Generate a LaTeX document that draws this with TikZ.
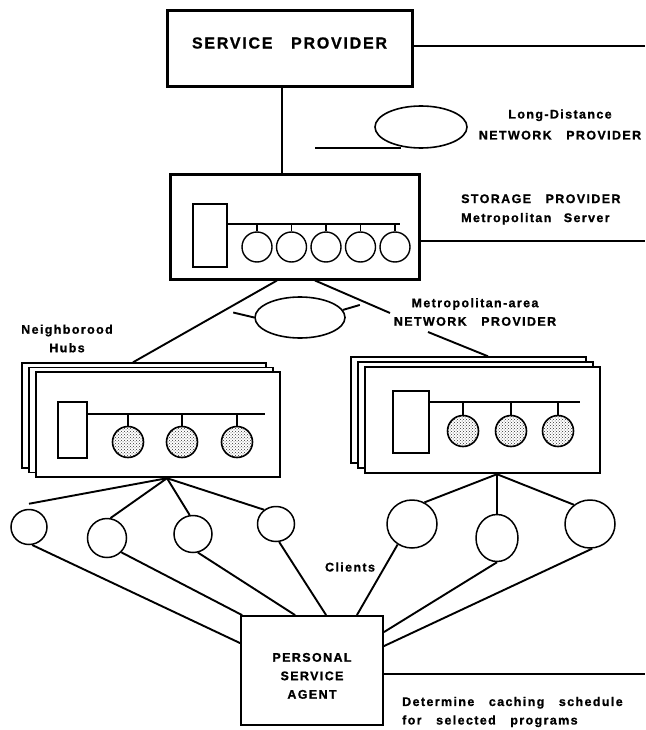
\documentclass[tikz,border=0pt]{standalone}
\usepackage{fontspec}
\newfontfamily\diagfont{Liberation Sans Bold}[LetterSpace=11,WordSpace=3,FakeBold=1]
\usetikzlibrary{shapes.geometric,patterns}

\begin{document}
\begin{tikzpicture}[x=1pt, y=-1pt,
  lbl/.style={font=\diagfont\fontsize{12.5}{18.5}\selectfont, inner sep=0pt},
  bigbox/.style={draw, line width=3pt, fill=white},
  hub/.style={draw, line width=2.4pt, fill=white, minimum width=#1},
  hubback/.style={draw, line width=1.4pt, fill=white, minimum width=#1},
  srv/.style={draw, line width=1.4pt, fill=white},
  disk/.style={draw, circle, line width=1.4pt, minimum size=30, inner sep=0pt},
  hubdisk/.style={draw, circle, line width=1.6pt, minimum size=31, inner sep=0pt, pattern=crosshatch dots, pattern color=black!80},
  client/.style={draw, ellipse, line width=1.5pt, inner sep=0pt},
  net/.style={draw, ellipse, line width=1.6pt, inner sep=0pt},
  link/.style={line width=1.9pt}
]
\useasboundingbox (0,0) rectangle (645,730);

\node[bigbox, lbl, font=\diagfont\fontsize{16}{20}\selectfont, minimum width=245, minimum height=76] (sp) at (289.5,49) {\raisebox{6pt}[\height][\depth]{SERVICE PROVIDER}};
\node[net, minimum width=92, minimum height=42] (ld) at (421,127) {};
\node[lbl, align=center] (ldt) at (560,124.5) {Long-Distance\\[2.5pt]NETWORK PROVIDER};

\node[bigbox, minimum width=249, minimum height=104] (sto) at (294.5,227) {};
\node[srv, minimum width=34, minimum height=63] (ssrv) at (210,235.5) {};
\coordinate (sbus) at (400,224);
\draw[link] (ssrv.east |- sbus) -- (sbus);
\foreach \x [count=\i] in {257,291.5,326,360.5,395} {
  \node[disk] (sd\i) at (\x,247) {};
  \draw[line width=1.4pt] (sd\i.north) -- (sd\i.north |- sbus);
}
\node[lbl, align=left, anchor=west] (stot) at (461,209.5) {STORAGE PROVIDER\\[0.5pt]Metropolitan\quad Server};

\node[net, minimum width=90, minimum height=41] (man) at (300,317.5) {};
\node[lbl, align=center] (mant) at (475,312) {Metropolitan-area\\NETWORK PROVIDER};
\node[lbl, align=center] (nh) at (67,338.5) {Neighborood\\Hubs};

\node[hubback={244}, minimum height=105] (hl3) at (144,415.5) {};
\node[hubback={244}, minimum height=105] (hl2) at (151,420) {};
\node[hub={244}, minimum height=105] (hl1) at (158,424.5) {};
\node[srv, minimum width=29, minimum height=56] (hlsrv) at (72.5,430) {};
\coordinate (hlbus) at (265,414);
\draw[link] (hlsrv.east |- hlbus) -- (hlbus);
\foreach \x [count=\i] in {128,182,237} {
  \node[hubdisk] (hld\i) at (\x,442) {};
  \draw[line width=1.4pt] (hld\i.north) -- (hld\i.north |- hlbus);
}

\node[hubback={235}, minimum height=106] (hr3) at (468.5,410) {};
\node[hubback={235}, minimum height=106] (hr2) at (475.5,415) {};
\node[hub={235}, minimum height=106] (hr1) at (482.5,420) {};
\node[srv, minimum width=36, minimum height=62] (hrsrv) at (411,422) {};
\coordinate (hrbus) at (580,402);
\draw[link] (hrsrv.east |- hrbus) -- (hrbus);
\foreach \x [count=\i] in {463,511,558} {
  \node[hubdisk] (hrd\i) at (\x,431) {};
  \draw[line width=1.4pt] (hrd\i.north) -- (hrd\i.north |- hrbus);
}

\node[client, minimum width=36, minimum height=35] (c1) at (29,527) {};
\node[client, minimum width=39, minimum height=39] (c2) at (107,538) {};
\node[client, minimum width=38, minimum height=37] (c3) at (193,534) {};
\node[client, minimum width=37, minimum height=35] (c4) at (276,524) {};
\node[client, minimum width=50, minimum height=48] (c5) at (412,524) {};
\node[client, minimum width=42, minimum height=47] (c6) at (497,538) {};
\node[client, minimum width=50, minimum height=48] (c7) at (590,524) {};
\node[lbl] (cl) at (350,567) {Clients};

\node[draw, line width=1.8pt, fill=white, lbl, minimum width=142, minimum height=109] (psa) at (312,670.5) {\raisebox{-6pt}[\height][\depth]{\begin{tabular}{@{}c@{}}PERSONAL\\SERVICE\\AGENT\end{tabular}}};
\node[lbl, align=left, anchor=west] (dt) at (402,712) {Determine caching schedule\\for selected programs};

\coordinate (spr) at (645,46);
\coordinate (stor) at (645,241);
\coordinate (pr) at (645,674);
\coordinate (ldl) at (315,148);
\coordinate (mr1) at (390,313);
\coordinate (mr2) at (428,332);
\coordinate (hlb) at ([xshift=9pt]hl1.south);
\coordinate (hrb) at ([xshift=14.5pt]hr1.south);

\draw[link] (sp.east |- spr) -- (spr);
\draw[link] ([xshift=-7.5pt]sp.south) -- ([xshift=-7.5pt]sp.south |- sto.north);
\draw[link] (ldl) -- (ldl -| ld.225);
\draw[link] (sto.east |- stor) -- (stor);
\draw[link] (man.west) -- ++(-21,-5);
\draw[link] (man.10) -- ++(17,-5);
\draw[link] ([xshift=-17.5pt]sto.south) -- ([xshift=-11pt]hl3.north);
\draw[link] ([xshift=20.5pt]sto.south) -- (mr1);
\draw[link] (mr2) -- ([xshift=19.5pt]hr3.north);

\draw[link] (hlb) -- ([yshift=5pt]c1.north);
\draw[link] (hlb) -- (c2.80);
\draw[link] (hlb) -- (c3.100);
\draw[link] (hlb) -- (c4.130);
\draw[link] (hrb) -- (c5.60);
\draw[link] (hrb) -- (c6.north);
\draw[link] (hrb) -- (c7.130);

\draw[link] (c1.-80) -- ([yshift=-28pt]psa.north west);
\draw[link] (c2.-45) -- ([xshift=2pt]psa.north west);
\draw[link] (c3.-75) -- ([xshift=55pt]psa.north west);
\draw[link] (c4.-80) -- ([xshift=86pt]psa.north west);
\draw[link] (c5.-125) -- ([xshift=-27pt]psa.north east);
\draw[link] (c6.south) -- ([yshift=-17pt]psa.north east);
\draw[link] (c7.-85) -- ([yshift=-31pt]psa.north east);
\draw[link] (psa.east |- pr) -- (pr);
\end{tikzpicture}
\end{document}
